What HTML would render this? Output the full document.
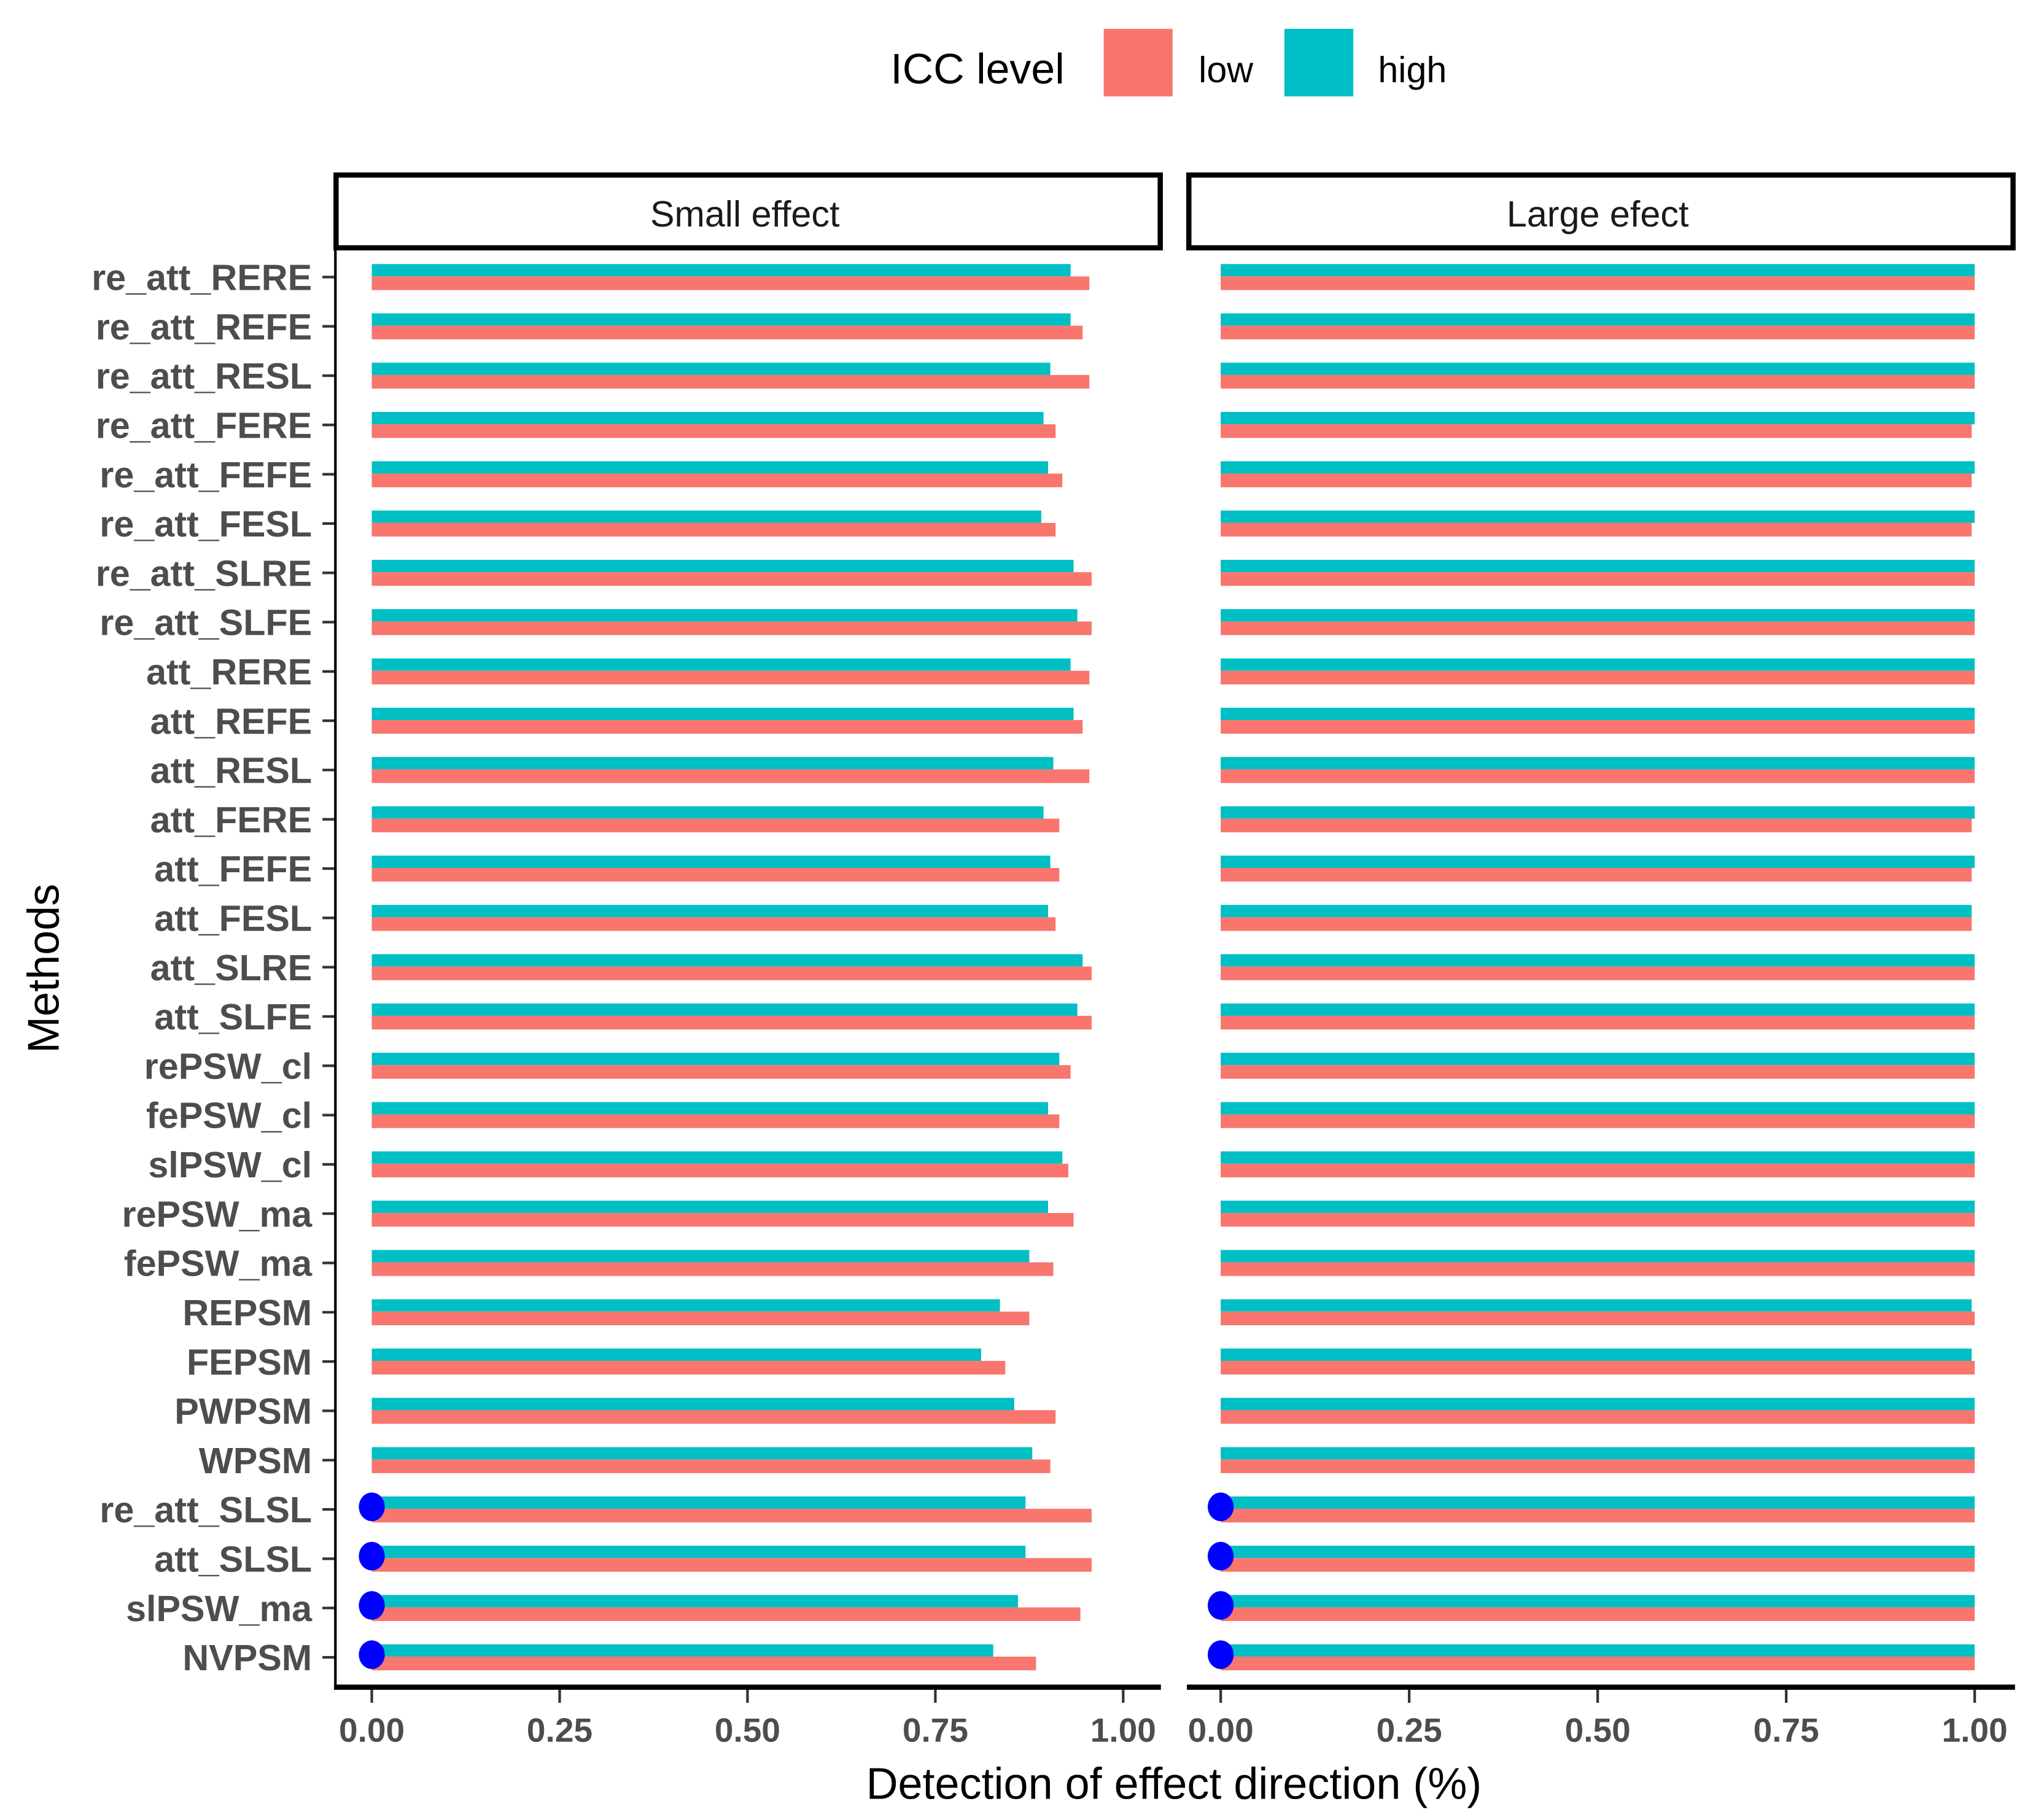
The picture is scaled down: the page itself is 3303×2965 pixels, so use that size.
<!DOCTYPE html>
<html><head><meta charset="utf-8"><style>
html,body{margin:0;padding:0;background:#fff}
svg{display:block}
text{font-family:"Liberation Sans",sans-serif}
</style></head><body>
<svg id="chart" width="3303" height="2965" viewBox="0 0 1560 1400" xmlns="http://www.w3.org/2000/svg">
<g>
<text x="685" y="64" font-size="33" fill="#000">ICC level</text>
<rect x="849" y="22" width="53" height="52" fill="#F8766D"/>
<text x="922" y="63" font-size="28" fill="#000">low</text>
<rect x="988" y="22" width="53" height="52" fill="#00BFC4"/>
<text x="1060" y="63" font-size="28" fill="#000">high</text>
</g>
<rect x="258.5" y="134.5" width="634" height="56" fill="#fff" stroke="#000" stroke-width="4"/>
<text x="573" y="174" font-size="28" text-anchor="middle" fill="#1a1a1a">Small effect</text>
<rect x="914.5" y="134.5" width="634" height="56" fill="#fff" stroke="#000" stroke-width="4"/>
<text x="1229" y="174" font-size="28" text-anchor="middle" fill="#1a1a1a">Large efect</text>
<g id="marks"></g>
<line x1="258" y1="192" x2="258" y2="1300" stroke="#000" stroke-width="2"/>
<line x1="257" y1="1298" x2="893" y2="1298" stroke="#000" stroke-width="4"/>
<line x1="913" y1="1298" x2="1550" y2="1298" stroke="#000" stroke-width="4"/>
<text x="903" y="1384" font-size="34" text-anchor="middle" fill="#000">Detection of effect direction (%)</text>
<text transform="translate(45,745) rotate(-90)" font-size="34" text-anchor="middle" fill="#000">Methods</text>
</svg>
<script>
const categories = ["re_att_RERE","re_att_REFE","re_att_RESL","re_att_FERE","re_att_FEFE","re_att_FESL","re_att_SLRE","re_att_SLFE","att_RERE","att_REFE","att_RESL","att_FERE","att_FEFE","att_FESL","att_SLRE","att_SLFE","rePSW_cl","fePSW_cl","slPSW_cl","rePSW_ma","fePSW_ma","REPSM","FEPSM","PWPSM","WPSM","re_att_SLSL","att_SLSL","slPSW_ma","NVPSM"];
const smallHigh = [.93,.93,.903,.894,.90,.891,.934,.939,.93,.934,.907,.894,.903,.90,.946,.939,.915,.90,.919,.90,.875,.836,.811,.855,.879,.87,.87,.86,.827];
const smallLow = [.955,.946,.955,.91,.919,.91,.958,.958,.955,.946,.955,.915,.915,.91,.958,.958,.93,.915,.927,.934,.907,.875,.843,.91,.903,.958,.958,.943,.884];
const largeHigh = [1,1,1,1,1,1,1,1,1,1,1,1,1,.996,1,1,1,1,1,1,1,.996,.996,1,1,1,1,1,1];
const largeLow = [1,1,1,.996,.996,.996,1,1,1,1,1,.996,.996,.996,1,1,1,1,1,1,1,1,1,1,1,1,1,1,1];
const pointCats = ["re_att_SLSL","att_SLSL","slPSW_ma","NVPSM"];
const pointVals = [0,0,0,0];
const tickVals = [0,0.25,0.5,0.75,1];
const tickLabels = ["0.00","0.25","0.50","0.75","1.00"];

const NS="http://www.w3.org/2000/svg";
const g=document.getElementById('marks');
const panels=[{name:'small',x0:286,x1:864,hi:smallHigh,lo:smallLow},{name:'large',x0:939,x1:1519,hi:largeHigh,lo:largeLow}];
function yPos(i){return 213+i*(1275-213)/(categories.length-1);}
function mk(tag,attrs){const e=document.createElementNS(NS,tag);for(const k in attrs)e.setAttribute(k,attrs[k]);g.appendChild(e);return e;}
panels.forEach(p=>{
  const xs=v=>p.x0+v*(p.x1-p.x0);
  categories.forEach((c,i)=>{
    const y=yPos(i);
    const t=mk('rect',{x:xs(0),y:y-10,width:xs(p.hi[i])-xs(0),height:9.5,fill:'#00BFC4'});
    
    
    const r=mk('rect',{x:xs(0),y:y-0.5,width:xs(p.lo[i])-xs(0),height:10.5,fill:'#F8766D'});
    
    
  });
  pointCats.forEach((c,j)=>{
    const i=categories.indexOf(c);
    const d=mk('ellipse',{cx:xs(pointVals[j]),cy:yPos(i)-2,rx:10,ry:11,fill:'#0000FF'});
    
    
  });
  tickVals.forEach((v,k)=>{
    const tk=mk('line',{x1:xs(v),y1:1300,x2:xs(v),y2:1310,stroke:'#333','stroke-width':2});
    
    
    const tl=mk('text',{x:xs(v),y:1340,'font-size':26,'font-weight':'bold','text-anchor':'middle',fill:'#4d4d4d'});
    tl.textContent=tickLabels[k];
    
    
  });
});
categories.forEach((c,i)=>{
  const y=yPos(i);
  const tk=mk('line',{x1:248,y1:y,x2:258,y2:y,stroke:'#333','stroke-width':2});
  
  
  const tl=mk('text',{x:240,y:y+10,'font-size':28,'font-weight':'bold','text-anchor':'end',fill:'#4d4d4d'});
  tl.textContent=c;
  
  
});
</script>
</body></html>
